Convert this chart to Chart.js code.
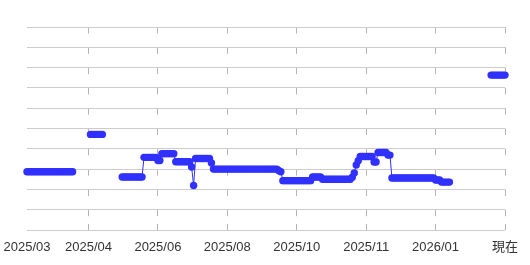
<!DOCTYPE html>
<html>
<head>
<meta charset="utf-8">
<script src="https://cdn.jsdelivr.net/npm/chart.js@4/dist/chart.umd.min.js"></script>
<style>
  html, body { margin: 0; padding: 0; background: #fff; }
  #wrap { width: 530px; height: 265px; }
</style>
</head>
<body>
<div id="wrap"><canvas id="priceChart"></canvas></div>
<script>
// 横軸: 1サンプルごとの位置 (ラベルは一部だけ)
const tickLabels = {
    0: '2025/03',
    31: '2025/04',
    66: '2025/06',
    101: '2025/08',
    136: '2025/10',
    171: '2025/11',
    206: '2026/01',
    241: '現在'
};
const sampleCount = 242;
const labels = [];
for (let i = 0; i < sampleCount; i++) {
    labels.push(tickLabels[i] || '');
}

// 価格の推移 (目盛りなしの相対値、null は欠測)
const priceValues = [
    // 0-23
    2.87, 2.87, 2.87, 2.87, 2.87, 2.87, 2.87, 2.87, 2.87, 2.87, 2.87, 2.87,
    2.87, 2.87, 2.87, 2.87, 2.87, 2.87, 2.87, 2.87, 2.87, 2.87, 2.87, 2.87,
    // 24-31
    null, null, null, null, null, null, null, null,
    // 32-38
    4.71, 4.71, 4.71, 4.71, 4.71, 4.71, 4.71,
    // 39-47
    null, null, null, null, null, null, null, null, null,
    // 48-58
    2.61, 2.61, 2.61, 2.61, 2.61, 2.61, 2.61, 2.61, 2.61, 2.61, 2.61,
    // 59-65
    3.58, 3.58, 3.58, 3.58, 3.58, 3.58, 3.58,
    // 66-67
    3.42, 3.42,
    // 68-74
    3.76, 3.76, 3.76, 3.76, 3.76, 3.76, 3.76,
    // 75-82
    3.36, 3.36, 3.36, 3.36, 3.36, 3.36, 3.36, 3.36,
    // 83-84
    3.10, 2.19,
    // 85-92
    3.52, 3.52, 3.52, 3.52, 3.52, 3.52, 3.52, 3.52,
    // 93
    3.30,
    // 94-126
    3.00, 3.00, 3.00, 3.00, 3.00, 3.00, 3.00, 3.00, 3.00, 3.00, 3.00,
    3.00, 3.00, 3.00, 3.00, 3.00, 3.00, 3.00, 3.00, 3.00, 3.00, 3.00,
    3.00, 3.00, 3.00, 3.00, 3.00, 3.00, 3.00, 3.00, 3.00, 3.00, 3.00,
    // 127-128
    2.92, 2.87,
    // 129-143
    2.43, 2.43, 2.43, 2.43, 2.43, 2.43, 2.43, 2.43, 2.43, 2.43, 2.43, 2.43, 2.43, 2.43, 2.43,
    // 144-148
    2.61, 2.61, 2.61, 2.61, 2.61,
    // 149-163
    2.50, 2.50, 2.50, 2.50, 2.50, 2.50, 2.50, 2.50, 2.50, 2.50, 2.50, 2.50, 2.50, 2.50, 2.50,
    // 164-167
    2.60, 2.81, 3.20, 3.41,
    // 168-174
    3.62, 3.62, 3.62, 3.62, 3.62, 3.62, 3.62,
    // 175-176
    3.35, 3.35,
    // 177-181
    3.82, 3.82, 3.82, 3.82, 3.82,
    // 182-183
    3.69, 3.69,
    // 184-205
    2.56, 2.56, 2.56, 2.56, 2.56, 2.56, 2.56, 2.56, 2.56, 2.56, 2.56,
    2.56, 2.56, 2.56, 2.56, 2.56, 2.56, 2.56, 2.56, 2.56, 2.56, 2.56,
    // 206-208
    2.46, 2.46, 2.46,
    // 209-213
    2.36, 2.36, 2.36, 2.36, 2.36,
    // 214-233
    null, null, null, null, null, null, null, null, null, null,
    null, null, null, null, null, null, null, null, null, null,
    // 234-241
    7.63, 7.63, 7.63, 7.63, 7.63, 7.63, 7.63, 7.63
];

const lineColor = '#3030ff';

// ラベルのある位置だけ縦線を引く (先頭は引かない)
function vLineColor(ctx) {
    if (ctx.index === 0 || !ctx.tick || ctx.tick.label === '') {
        return 'rgba(0,0,0,0)';
    }
    return '#b4b4b4';
}

new Chart(document.getElementById('priceChart'), {
    type: 'line',
    data: {
        labels: labels,
        datasets: [{
            data: priceValues,
            borderColor: lineColor,
            backgroundColor: lineColor,
            borderWidth: 1,
            pointRadius: 3.7,
            pointBorderWidth: 0,
            pointBackgroundColor: lineColor,
            spanGaps: false,
            clip: false
        }]
    },
    options: {
        responsive: true,
        maintainAspectRatio: false,
        animation: false,
        events: [],
        layout: {
            padding: { left: 27, right: 25, top: 27, bottom: 10 }
        },
        plugins: {
            legend: { display: false },
            tooltip: { enabled: false }
        },
        scales: {
            x: {
                afterFit: scale => {
                    scale.height = 25;
                    scale.paddingLeft = 0;
                    scale.paddingRight = 0;
                },
                border: { display: false, dash: [6.5, 13.8] },
                grid: {
                    color: vLineColor,
                    tickColor: vLineColor,
                    tickLength: -6,
                    drawTicks: true
                },
                ticks: {
                    autoSkip: false,
                    maxRotation: 0,
                    minRotation: 0,
                    padding: 16,
                    color: '#333',
                    font: { family: "'Liberation Sans', 'Noto Sans CJK JP', sans-serif", size: 13 }
                }
            },
            y: {
                min: 0,
                max: 10,
                afterFit: scale => { scale.width = 0; },
                border: { display: false },
                grid: {
                    color: '#cccccc',
                    drawTicks: false
                },
                ticks: {
                    display: false,
                    stepSize: 1
                }
            }
        }
    }
});
</script>
</body>
</html>
